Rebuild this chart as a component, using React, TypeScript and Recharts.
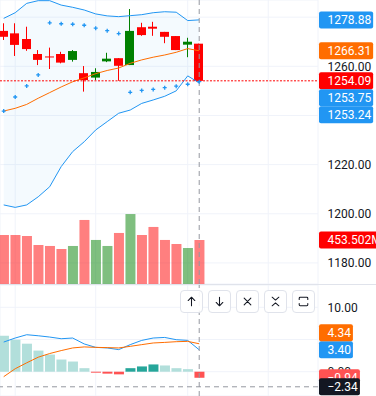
import { Area, Bar, CartesianGrid, Cell, ComposedChart, Line, ReferenceLine, XAxis, YAxis } from "recharts";

// Chandeliers + Bollinger (20,2) + SAR parabolique, volume en overlay, volet MACD dessous.
// Même domaine X numérique (index de séance) pour tous les graphes → colonnes alignées au pixel.
const FONT = "Roboto, 'Liberation Sans', Arial, sans-serif";
const INK = "#131722";
const GRID = "#f0f3fa";
const BLUE = "#2196f3";
const ORANGE = "#ff6d00";
const UP = "#008000";
const DOWN = "#ff0000";
const VOL_UP = "rgba(0,128,0,0.5)";
const VOL_DOWN = "rgba(255,0,0,0.5)";
const CROSS = "#9598a1";

// séances, de la plus ancienne à la plus récente
const OPEN = [1274.4, 1273.4, 1271.1, 1265.0, 1264.0, 1265.0, 1262.6, 1257.2, 1255.4, 1262.0, 1263.3, 1260.5, 1275.9, 1276.1, 1274.0, 1272.3, 1268.8, 1269.2];
const HIGH = [1277.5, 1277.5, 1276.1, 1266.6, 1267.6, 1265.9, 1266.6, 1260.1, 1259.2, 1265.5, 1263.3, 1283.3, 1277.7, 1278.1, 1274.0, 1272.3, 1271.6, 1269.2];
const LOW = [1270.7, 1264.2, 1266.3, 1260.5, 1258.9, 1261.2, 1261.9, 1249.7, 1254.4, 1261.7, 1254.1, 1260.5, 1272.4, 1272.4, 1269.4, 1266.6, 1263.7, 1254.09];
const CLOSE = [1272.0, 1268.7, 1267.0, 1262.6, 1263.8, 1261.5, 1266.2, 1254.4, 1257.7, 1263.1, 1260.2, 1274.4, 1272.7, 1275.3, 1272.0, 1266.6, 1270.0, 1254.09];
const VOLUME = [505, 505, 495, 402, 392, 361, 392, 660, 454, 392, 526, 721, 505, 588, 454, 412, 371, 453.502]; // millions

const BB_UPPER = [1279.5, 1281.8, 1285.6, 1286.7, 1286.7, 1284.9, 1284.0, 1282.9, 1281.3, 1280.5, 1280.2, 1280.6, 1281.0, 1281.8, 1282.2, 1282.0, 1278.6, 1278.88];
const BB_BASIS = [1241.8, 1242.9, 1244.5, 1247.0, 1249.3, 1251.6, 1253.7, 1255.3, 1257.0, 1258.3, 1259.3, 1261.2, 1262.6, 1263.7, 1264.6, 1265.7, 1267.2, 1266.31];
const BB_LOWER = [1203.6, 1202.6, 1203.6, 1206.9, 1211.0, 1219.2, 1225.3, 1229.3, 1234.1, 1237.5, 1240.9, 1242.2, 1244.9, 1246.3, 1247.8, 1250.0, 1256.1, 1253.24];
const SAR = [1241.8, 1247.5, 1252.0, 1256.5, 1277.7, 1277.3, 1277.1, 1276.7, 1275.5, 1274.5, 1273.3, 1249.4, 1250.2, 1250.6, 1251.3, 1251.9, 1252.7, 1253.75];

const MACD = [4.6, 5.23, 5.74, 5.58, 5.38, 5.12, 5.23, 4.31, 3.78, 3.69, 3.43, 4.2, 4.86, 5.23, 5.32, 4.97, 4.86, 3.4];
const SIGNAL = [-0.77, 0.46, 1.38, 2.25, 2.82, 3.28, 3.69, 3.85, 3.78, 3.74, 3.69, 3.94, 4.2, 4.46, 4.55, 4.66, 4.71, 4.34];
const HIST = [5.58, 4.97, 4.35, 3.28, 2.66, 1.89, 1.58, 0.55, -0.15, -0.3, -0.41, 0.55, 0.82, 1.13, 0.97, 0.55, 0.4, -0.94];

const TIME_GRID = [1, 8, 16, 23]; // débuts de période ; 23 tombe dans la marge vide à droite
const PRICE_TICKS = [1180, 1200, 1220, 1240, 1260, 1280];
const MACD_TICKS = [0, 5, 10];
const CROSSHAIR_AT = 17;
const CROSSHAIR_VALUE = -2.34;

const W = 376;
const AXIS_W = 58;
const MAIN_H = 284;
const MACD_H = 111;
const TAG_H = 17;
const X_DOMAIN: [number, number] = [-0.322, 27.33];
const PRICE_DOMAIN: [number, number] = [1171.43, 1286.97];
const VOL_DOMAIN: [number, number] = [0, 2927];
const MACD_DOMAIN: [number, number] = [-3.77, 13.46];
const NO_MARGIN = { top: 0, right: 0, bottom: 0, left: 0 };
const OVERLAY_MARGIN = { ...NO_MARGIN, right: AXIS_W };

const last = OPEN.length - 1;
const fmt = (v: number) => (v < 0 ? `\u2212${Math.abs(v).toFixed(2)}` : v.toFixed(2));

const rows = OPEN.map((o, i) => {
  const h = HIST[i];
  const prev = i ? HIST[i - 1] : h >= 0 ? Infinity : -Infinity;
  return {
    i, o, h: HIGH[i], l: LOW[i], c: CLOSE[i],
    hl: [LOW[i], HIGH[i]],
    up: CLOSE[i] >= o,
    vol: VOLUME[i],
    upper: BB_UPPER[i], basis: BB_BASIS[i], lower: BB_LOWER[i],
    band: [BB_LOWER[i], BB_UPPER[i]],
    sar: SAR[i],
    macd: MACD[i], signal: SIGNAL[i], hist: h,
    histColor: h >= 0 ? (h > prev ? "#26a69a" : "#b2dfdb") : h < prev ? "#ff5252" : "#ffcdd2",
  };
});

// étiquettes de l'échelle : empilées (pas exprimé en unités de valeur) pour ne pas se chevaucher
type TagDef = { value: number; text: string; bg: string; minor?: boolean };
const stack = (tags: TagDef[], step: number, down: boolean) => {
  const sorted = [...tags].sort((a, b) => (down ? b.value - a.value : a.value - b.value));
  let prev = down ? Infinity : -Infinity;
  return sorted.map((t) => {
    const pos = down ? Math.min(t.value, prev - step) : Math.max(t.value, prev + step);
    prev = pos;
    return { ...t, pos };
  });
};
const priceStep = (TAG_H * (PRICE_DOMAIN[1] - PRICE_DOMAIN[0])) / MAIN_H;
const macdStep = (TAG_H * (MACD_DOMAIN[1] - MACD_DOMAIN[0])) / MACD_H;

const mainTags = stack([
  { value: BB_UPPER[last], text: fmt(BB_UPPER[last]), bg: BLUE },
  { value: BB_BASIS[last], text: fmt(BB_BASIS[last]), bg: ORANGE },
  { value: CLOSE[last], text: fmt(CLOSE[last]), bg: rows[last].up ? UP : DOWN },
  { value: SAR[last], text: fmt(SAR[last]), bg: BLUE },
  { value: BB_LOWER[last], text: fmt(BB_LOWER[last]), bg: BLUE },
], priceStep, true);

const macdTags = stack([
  { value: HIST[last], text: fmt(HIST[last]), bg: rows[last].histColor, minor: true },
  { value: MACD[last], text: fmt(MACD[last]), bg: BLUE },
  { value: SIGNAL[last], text: fmt(SIGNAL[last]), bg: ORANGE },
], macdStep, false);

const CHAR_W: Record<string, number> = { ".": 3.2, "\u2212": 7, M: 10.2 };
const textW = (s: string) => [...s].reduce((w, ch) => w + (CHAR_W[ch] ?? 6.74), 0);

function Tag({ viewBox, text, bg }: any) {
  if (!viewBox) return null;
  const x0 = viewBox.x + viewBox.width;
  const y = viewBox.y;
  return (
    <g>
      <rect x={x0 + 1} y={y - TAG_H / 2} width={10.5 + textW(text)} height={TAG_H} rx={2} fill={bg} />
      <text x={x0 + 9.5} y={y} dy="0.355em" fontSize={12} fontFamily={FONT} fill="#fff">{text}</text>
    </g>
  );
}

// graduation masquée quand une étiquette la recouvre (comme l'échelle d'origine)
function AxisTick({ x, y, payload, blockers, step }: any) {
  if (blockers.some((b: number) => Math.abs(b - payload.value) < step / 2)) return null;
  return (
    <text x={x} y={y} dy="0.355em" fontSize={12} fontFamily={FONT} fill={INK} textAnchor="start">{fmt(payload.value)}</text>
  );
}

function Candle(props: any) {
  const { x, y, width, height, payload } = props;
  if (!payload || height == null) return null;
  const { o, c, h, l, up } = payload;
  const at = (p: number) => y + ((h - p) / (h - l)) * height;
  const bw = Math.round(width);
  const mid = Math.floor(x + width / 2);
  const top = at(Math.max(o, c));
  const bot = at(Math.min(o, c));
  const col = up ? UP : DOWN;
  return (
    <g>
      <rect x={mid} y={y} width={1} height={height} fill={col} />
      <rect x={mid - (bw - 1) / 2} y={top} width={bw} height={Math.max(1, bot - top)} fill={col} />
    </g>
  );
}

const sarDot = (p: any) => (
  <path key={p.index} d={`M${p.cx - 2} ${p.cy}h4M${p.cx} ${p.cy - 2}v4`} stroke={BLUE} strokeWidth={1.3} fill="none" />
);

const xAxis = <XAxis type="number" dataKey="i" domain={X_DOMAIN} ticks={TIME_GRID} allowDataOverflow hide />;
const noAnim = { isAnimationActive: false, dot: false, activeDot: false } as const;

const ICONS = [
  "M11 6.5v9M7.5 10L11 6.5l3.5 3.5",
  "M11 6.5v9M7.5 12l3.5 3.5 3.5-3.5",
  "M7.5 7.5l7 7M14.5 7.5l-7 7",
  "M7.5 6.5l3.5 3 3.5-3M7.5 15.5l3.5-3 3.5 3",
  "M6.5 9V7.5a1 1 0 0 1 1-1h7a1 1 0 0 1 1 1V9M6.5 13v1.5a1 1 0 0 0 1 1h7a1 1 0 0 0 1-1V13",
];

export default function App() {
  const place = (top: number) => ({ position: "absolute" as const, left: 0, top });
  return (
    <div style={{ position: "absolute", left: 0, top: 0, width: W, height: 396, overflow: "hidden", background: "#fff", fontFamily: FONT }}>
      {/* fond : grille, échelle de prix, volumes */}
      <div style={place(0)}>
        <ComposedChart width={W} height={MAIN_H} data={rows} margin={NO_MARGIN}>
          <CartesianGrid stroke={GRID} />
          {xAxis}
          <YAxis orientation="right" width={AXIS_W} domain={PRICE_DOMAIN} ticks={PRICE_TICKS} interval={0} allowDataOverflow
                 axisLine={false} tickLine={false} tickSize={0} tickMargin={9.5}
                 tick={<AxisTick blockers={mainTags.map((t) => t.pos)} step={priceStep} />} />
          <YAxis yAxisId="vol" hide domain={VOL_DOMAIN} allowDataOverflow />
          <Bar yAxisId="vol" dataKey="vol" barSize={10} isAnimationActive={false}>
            {rows.map((r) => <Cell key={r.i} fill={r.up ? VOL_UP : VOL_DOWN} />)}
          </Bar>
          <ReferenceLine yAxisId="vol" y={VOLUME[last]} stroke="none"
                         label={<Tag text={`${VOLUME[last].toFixed(3)}M`} bg={rows[last].up ? UP : DOWN} />} />
        </ComposedChart>
      </div>

      {/* prix : bandes, chandeliers, SAR, étiquettes */}
      <div style={place(0)}>
        <ComposedChart width={W} height={MAIN_H} data={rows} margin={OVERLAY_MARGIN}>
          {xAxis}
          <YAxis hide domain={PRICE_DOMAIN} allowDataOverflow />
          <Area dataKey="band" fill={BLUE} fillOpacity={0.05} stroke="none" {...noAnim} />
          <Line dataKey="upper" stroke={BLUE} strokeWidth={1} {...noAnim} />
          <Line dataKey="lower" stroke={BLUE} strokeWidth={1} {...noAnim} />
          <Line dataKey="basis" stroke={ORANGE} strokeWidth={1} {...noAnim} />
          <Bar dataKey="hl" barSize={9} shape={<Candle />} isAnimationActive={false} />
          <Line dataKey="sar" stroke="none" dot={sarDot} activeDot={false} isAnimationActive={false} />
          <ReferenceLine y={CLOSE[last]} stroke={DOWN} strokeDasharray="2 1.5" />
          <ReferenceLine x={CROSSHAIR_AT} stroke={CROSS} strokeDasharray="5 4" />
          {mainTags.map((t) => (
            <ReferenceLine key={t.text} y={t.pos} stroke="none" label={<Tag text={t.text} bg={t.bg} />} />
          ))}
        </ComposedChart>
      </div>

      <div style={{ ...place(MAIN_H), width: W, height: 1, background: "#e0e3eb" }} />

      {/* volet MACD (12,26,9) */}
      <div style={place(MAIN_H + 1)}>
        <ComposedChart width={W} height={MACD_H} data={rows} margin={NO_MARGIN}>
          <CartesianGrid stroke={GRID} />
          {xAxis}
          <YAxis orientation="right" width={AXIS_W} domain={MACD_DOMAIN} ticks={MACD_TICKS} interval={0} allowDataOverflow
                 axisLine={false} tickLine={false} tickSize={0} tickMargin={9.5}
                 tick={<AxisTick blockers={macdTags.filter((t) => !t.minor).map((t) => t.pos)} step={macdStep} />} />
          <Bar dataKey="hist" barSize={10} isAnimationActive={false}>
            {rows.map((r) => <Cell key={r.i} fill={r.histColor} />)}
          </Bar>
          <Line dataKey="macd" stroke={BLUE} strokeWidth={1} {...noAnim} />
          <Line dataKey="signal" stroke={ORANGE} strokeWidth={1} {...noAnim} />
          <ReferenceLine x={CROSSHAIR_AT} stroke={CROSS} strokeDasharray="5 4" />
          <ReferenceLine y={CROSSHAIR_VALUE} stroke={CROSS} strokeDasharray="5 4" />
        </ComposedChart>
      </div>
      {/* étiquettes MACD au-dessus des graduations */}
      <div style={place(MAIN_H + 1)}>
        <ComposedChart width={W} height={MACD_H} data={rows} margin={OVERLAY_MARGIN}>
          {xAxis}
          <YAxis hide domain={MACD_DOMAIN} allowDataOverflow />
          {macdTags.map((t) => (
            <ReferenceLine key={t.text} y={t.pos} stroke="none" label={<Tag text={t.text} bg={t.bg} />} />
          ))}
          <ReferenceLine y={CROSSHAIR_VALUE} stroke="none" label={<Tag text={fmt(CROSSHAIR_VALUE)} bg={INK} />} />
        </ComposedChart>
      </div>

      {/* boutons du volet */}
      {ICONS.map((d, k) => (
        <div key={k} style={{ ...place(290), left: 180 + k * 28, width: 23, height: 23, boxSizing: "border-box",
                              border: "1px solid #e0e3eb", borderRadius: 4, background: "rgba(255,255,255,0.92)" }}>
          <svg width={21} height={21} viewBox="0 0 22 22" style={{ display: "block" }}>
            <path d={d} stroke={INK} strokeWidth={1.1} fill="none" strokeLinecap="round" strokeLinejoin="round" />
          </svg>
        </div>
      ))}
    </div>
  );
}
